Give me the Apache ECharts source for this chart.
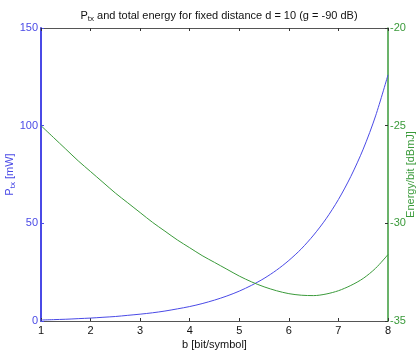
<!DOCTYPE html>
<html>
<head>
<meta charset="utf-8">
<script src="https://cdn.jsdelivr.net/npm/echarts@6/dist/echarts.min.js"></script>
<style>
  html, body { margin: 0; padding: 0; background: #fff; }
  #chart { width: 416px; height: 351px; }
</style>
</head>
<body>
<div id="chart"></div>
<script>
// b [bit/symbol]
const bits = [1, 1.25, 1.5, 1.75, 2, 2.25, 2.5, 2.75, 3, 3.25, 3.5, 3.75, 4, 4.25, 4.5,
  4.75, 5, 5.25, 5.5, 5.75, 6, 6.25, 6.5, 6.75, 7, 7.25, 7.5, 7.75, 8];
// P_tx [mW]
const ptx = [0.5, 0.7, 0.9, 1.2, 1.5, 1.9, 2.3, 2.9, 3.5, 4.2, 5.1, 6.2, 7.4, 8.9, 10.7,
  12.8, 15.3, 18.3, 21.8, 26.0, 31.0, 36.9, 44.0, 52.3, 62.2, 74.0, 88.0, 105, 126];
// Energy/bit [dBmJ]
const energy = [-25.0, -25.6, -26.2, -26.8, -27.35, -27.9, -28.45, -28.95, -29.45, -29.95,
  -30.4, -30.85, -31.25, -31.65, -32.0, -32.35, -32.7, -33.0, -33.25, -33.45, -33.6,
  -33.68, -33.7, -33.62, -33.45, -33.18, -32.82, -32.3, -31.6];

const blue = "#4a4ae6";
const green = "#3a9a3a";
const font = "Liberation Sans";

const chart = echarts.init(document.getElementById("chart"));

chart.setOption({
  animation: false,
  textStyle: { fontFamily: font },
  title: {
    text: "{a|P}{s|tx}{a| and total energy for fixed distance d = 10 (g = -90 dB)}",
    left: 214,
    textAlign: "center",
    top: 4,
    textStyle: {
      fontWeight: "normal",
      rich: {
        a: { fontSize: 11, color: "#111", fontFamily: font, fontWeight: "normal" },
        s: { fontSize: 8, color: "#111", fontFamily: font, fontWeight: "normal", verticalAlign: "bottom", padding: [6, 0, 0, 0] },
      },
    },
  },
  grid: { left: 41, right: 28, top: 28, bottom: 30, containLabel: false, outerBoundsMode: "none" },
  xAxis: [
    {
      type: "value",
      min: 1,
      max: 8,
      interval: 1,
      name: "b [bit/symbol]",
      nameLocation: "middle",
      nameGap: 18,
      nameMoveOverlap: false,
      nameTextStyle: { fontSize: 11, color: "#111" },
      axisLine: { lineStyle: { color: "#555", width: 1 } },
      axisTick: { inside: true, length: 3, lineStyle: { color: "#333" } },
      axisLabel: { fontSize: 11, color: "#111", margin: 4 },
      splitLine: { show: false },
    },
    {
      type: "value",
      position: "top",
      min: 1,
      max: 8,
      interval: 1,
      axisLine: { lineStyle: { color: "#555", width: 1 } },
      axisTick: { inside: true, length: 3, lineStyle: { color: "#333" } },
      axisLabel: { show: false },
      splitLine: { show: false },
    },
  ],
  yAxis: [
    {
      type: "value",
      min: 0,
      max: 150,
      interval: 50,
      name: "{a|P}{s|tx}{a| [mW]}",
      nameLocation: "middle",
      nameGap: 24,
      nameMoveOverlap: false,
      nameTextStyle: {
        rich: {
          a: { fontSize: 11, color: blue, fontFamily: font },
          s: { fontSize: 8, color: blue, fontFamily: font, verticalAlign: "bottom", padding: [6, 0, 0, 0] },
        },
      },
      axisLine: { show: true, lineStyle: { color: blue, width: 2 } },
      axisTick: { show: true, inside: true, length: 3, lineStyle: { color: blue } },
      axisLabel: { fontSize: 11, color: blue, margin: 3 },
      splitLine: { show: false },
    },
    {
      type: "value",
      min: -35,
      max: -20,
      interval: 5,
      position: "right",
      name: "Energy/bit [dBmJ]",
      nameLocation: "middle",
      nameGap: 17,
      nameMoveOverlap: false,
      nameTextStyle: { fontSize: 11, color: green },
      axisLine: { show: true, lineStyle: { color: green, width: 1.5 } },
      axisTick: { show: true, inside: true, length: 3, lineStyle: { color: "#333" } },
      axisLabel: { fontSize: 11, color: green, margin: 2 },
      splitLine: { show: false },
    },
  ],
  series: [
    {
      name: "P_tx",
      type: "line",
      xAxisIndex: 0,
      yAxisIndex: 0,
      data: bits.map((b, i) => [b, ptx[i]]),
      showSymbol: false,
      smooth: 0.3,
      lineStyle: { color: blue, width: 1 },
    },
    {
      name: "Energy/bit",
      type: "line",
      xAxisIndex: 0,
      yAxisIndex: 1,
      data: bits.map((b, i) => [b, energy[i]]),
      showSymbol: false,
      smooth: 0.3,
      lineStyle: { color: green, width: 1 },
    },
  ],
});
</script>
</body>
</html>
